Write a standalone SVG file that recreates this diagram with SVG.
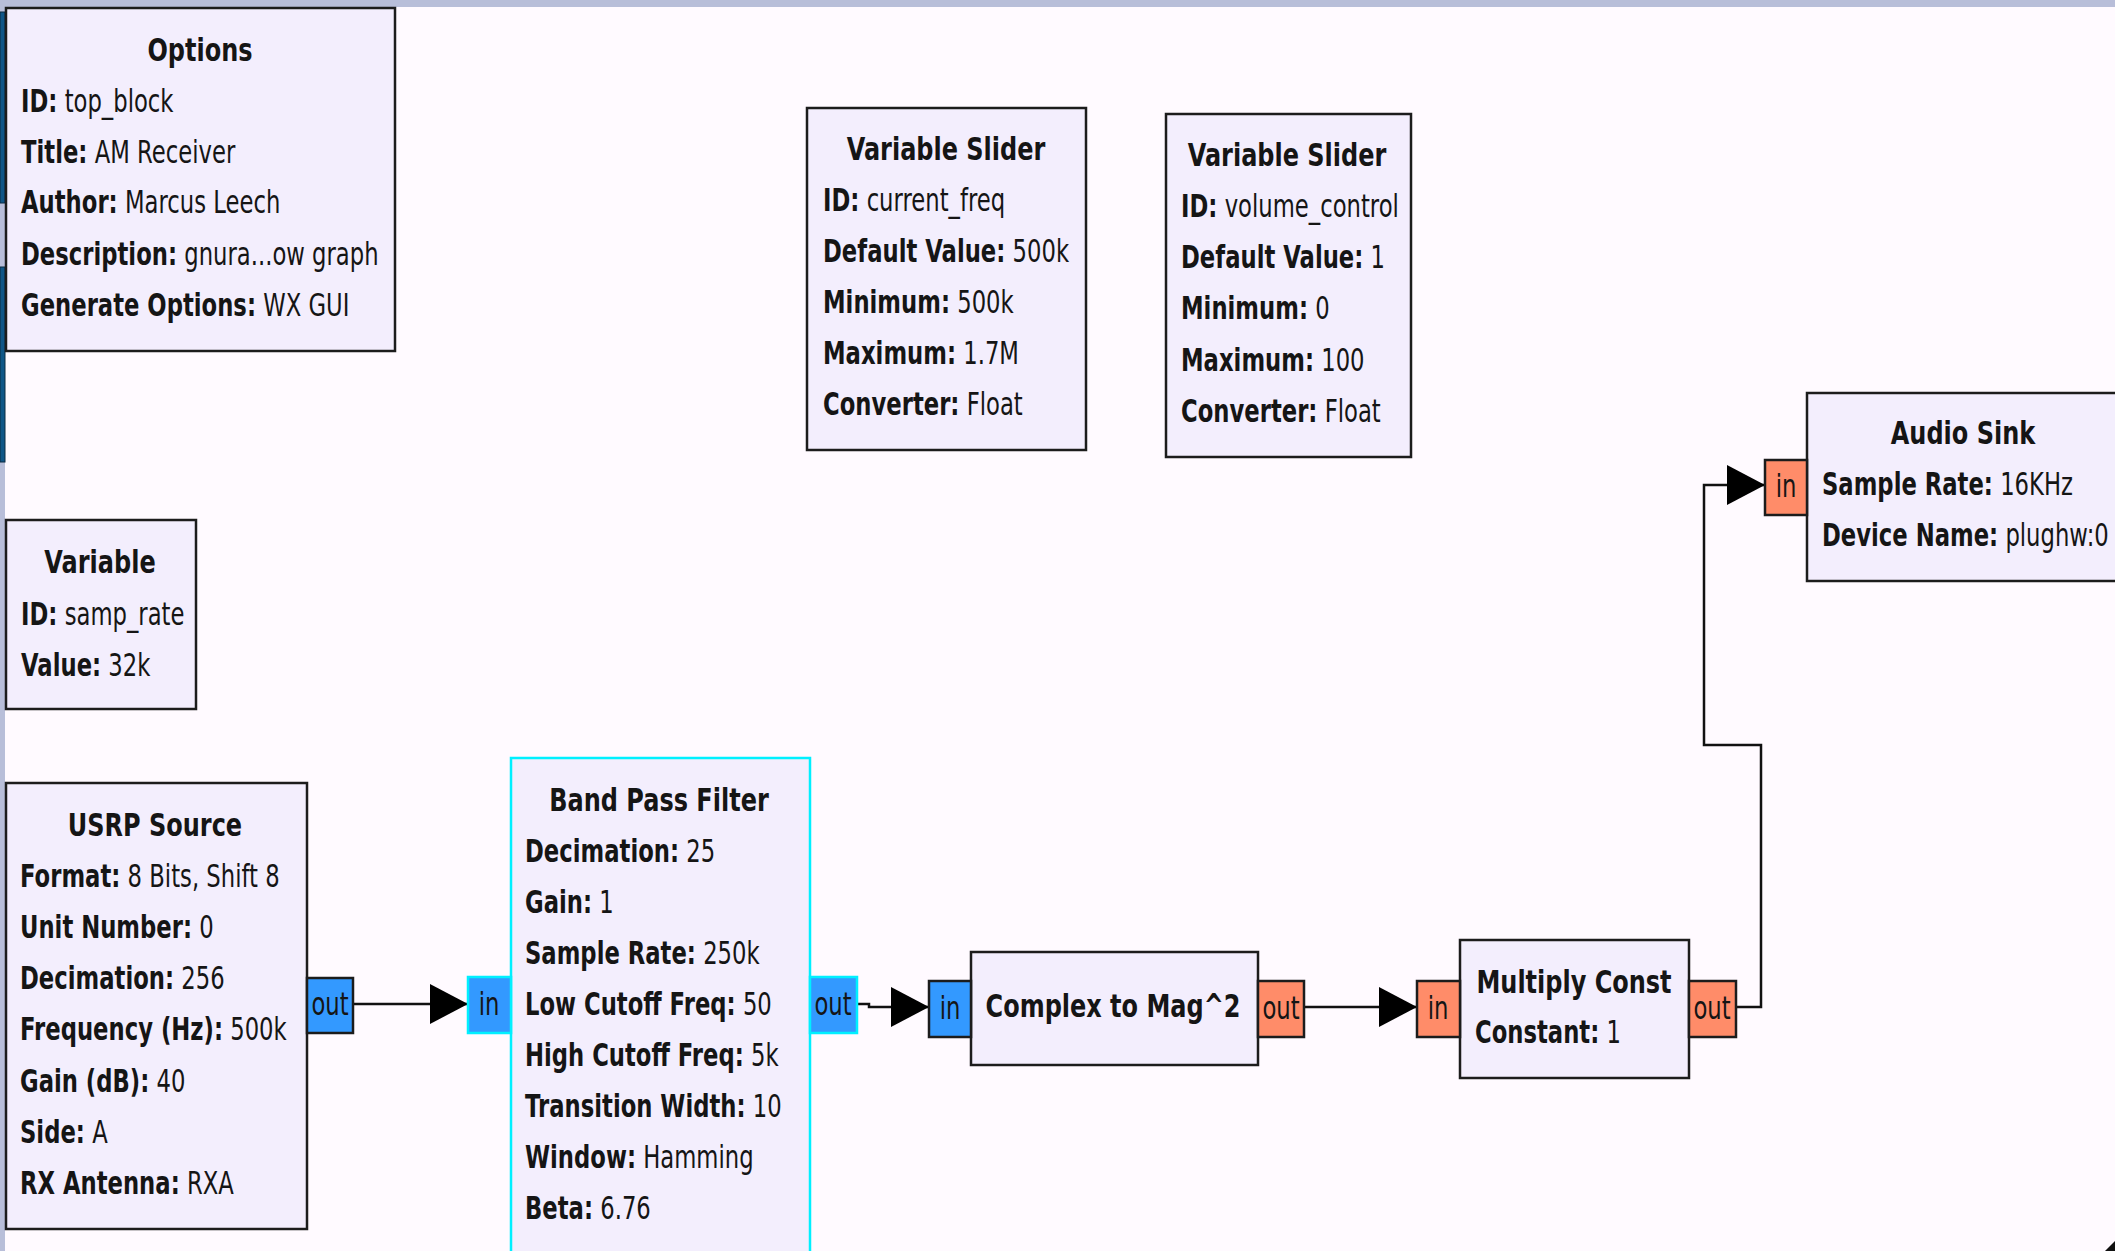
<svg xmlns="http://www.w3.org/2000/svg" width="2115" height="1251" viewBox="0 0 2115 1251">
<style>
.bg{fill:#FFFAFF}
.frame{fill:#B8BED9}
.tab{fill:#0F5687;stroke:#0a2a40;stroke-width:1}
.blk{fill:#F3EEFD;stroke:#1c1c1c;stroke-width:2.5}
.hl{stroke:#00F0FF}
.pc{fill:#3399FF;stroke:#1c1c1c;stroke-width:2.5}
.pf{fill:#FF8C69;stroke:#1c1c1c;stroke-width:2.5}
.pc.hl{stroke:#00F0FF}
text{font-family:"DejaVu Sans","Liberation Sans",sans-serif;font-size:32px;fill:#151515}
.b{font-weight:bold}
.c{text-anchor:middle}
.conn path{fill:none;stroke:#111;stroke-width:2.5}
</style>
<defs>
<marker id="arr" markerUnits="userSpaceOnUse" markerWidth="40" markerHeight="42" viewBox="0 0 40 42" refX="39" refY="21" orient="auto">
<path d="M1 1 L39 21 L1 41 Z" fill="#000"/>
</marker>
</defs>
<rect class="bg" x="0" y="0" width="2115" height="1251"/>
<rect class="frame" x="0" y="0" width="2115" height="7"/>
<rect class="frame" x="0" y="0" width="5" height="1251"/>
<rect class="tab" x="0" y="12" width="5" height="191"/>
<rect class="tab" x="0" y="267" width="5" height="195"/>

<g id="conns" class="conn">
<path d="M353 1004 H468" marker-end="url(#arr)"/>
<path d="M857 1004 H869 V1007 H929" marker-end="url(#arr)"/>
<path d="M1304 1007 H1417" marker-end="url(#arr)"/>
<path d="M1736 1007 H1761 V745 H1704 V485 H1765" marker-end="url(#arr)"/>
</g>

<g id="options">
<rect class="blk" x="6" y="8" width="389" height="343"/>
<text class="b c" transform="translate(200 61) scale(.75 1)">Options</text>
<text transform="translate(21 112) scale(.71 1)"><tspan class="b">ID:</tspan> top_block</text>
<text transform="translate(21 163) scale(.71 1)"><tspan class="b">Title:</tspan> AM Receiver</text>
<text transform="translate(21 213) scale(.71 1)"><tspan class="b">Author:</tspan> Marcus Leech</text>
<text transform="translate(21 265) scale(.71 1)"><tspan class="b">Description:</tspan> gnura...ow graph</text>
<text transform="translate(21 316) scale(.71 1)"><tspan class="b">Generate Options:</tspan> WX GUI</text>
</g>

<g id="variable">
<rect class="blk" x="6" y="520" width="190" height="189"/>
<text class="b c" transform="translate(100 573) scale(.75 1)">Variable</text>
<text transform="translate(21 625) scale(.71 1)"><tspan class="b">ID:</tspan> samp_rate</text>
<text transform="translate(21 676) scale(.71 1)"><tspan class="b">Value:</tspan> 32k</text>
</g>

<g id="slider_freq">
<rect class="blk" x="807" y="108" width="279" height="342"/>
<text class="b c" transform="translate(946 160) scale(.75 1)">Variable Slider</text>
<text transform="translate(823 211) scale(.71 1)"><tspan class="b">ID:</tspan> current_freq</text>
<text transform="translate(823 262) scale(.71 1)"><tspan class="b">Default Value:</tspan> 500k</text>
<text transform="translate(823 313) scale(.71 1)"><tspan class="b">Minimum:</tspan> 500k</text>
<text transform="translate(823 364) scale(.71 1)"><tspan class="b">Maximum:</tspan> 1.7M</text>
<text transform="translate(823 415) scale(.71 1)"><tspan class="b">Converter:</tspan> Float</text>
</g>

<g id="slider_volume">
<rect class="blk" x="1166" y="114" width="245" height="343"/>
<text class="b c" transform="translate(1287 166) scale(.75 1)">Variable Slider</text>
<text transform="translate(1181 217) scale(.71 1)"><tspan class="b">ID:</tspan> volume_control</text>
<text transform="translate(1181 268) scale(.71 1)"><tspan class="b">Default Value:</tspan> 1</text>
<text transform="translate(1181 319) scale(.71 1)"><tspan class="b">Minimum:</tspan> 0</text>
<text transform="translate(1181 371) scale(.71 1)"><tspan class="b">Maximum:</tspan> 100</text>
<text transform="translate(1181 422) scale(.71 1)"><tspan class="b">Converter:</tspan> Float</text>
</g>

<g id="audio_sink">
<rect class="blk" x="1807" y="393" width="320" height="188"/>
<rect class="pf" x="1765" y="460" width="42" height="55"/>
<text class="c" transform="translate(1786 497) scale(.71 1)">in</text>
<text class="b c" transform="translate(1963 444) scale(.75 1)">Audio Sink</text>
<text transform="translate(1822 495) scale(.71 1)"><tspan class="b">Sample Rate:</tspan> 16KHz</text>
<text transform="translate(1822 546) scale(.71 1)"><tspan class="b">Device Name:</tspan> plughw:0</text>
</g>

<g id="usrp_source">
<rect class="blk" x="6" y="783" width="301" height="446"/>
<rect class="pc" x="307" y="978" width="46" height="55"/>
<text class="c" transform="translate(330 1015) scale(.71 1)">out</text>
<text class="b c" transform="translate(155 836) scale(.75 1)">USRP Source</text>
<text transform="translate(20 887) scale(.71 1)"><tspan class="b">Format:</tspan> 8 Bits, Shift 8</text>
<text transform="translate(20 938) scale(.71 1)"><tspan class="b">Unit Number:</tspan> 0</text>
<text transform="translate(20 989) scale(.71 1)"><tspan class="b">Decimation:</tspan> 256</text>
<text transform="translate(20 1040) scale(.71 1)"><tspan class="b">Frequency (Hz):</tspan> 500k</text>
<text transform="translate(20 1092) scale(.71 1)"><tspan class="b">Gain (dB):</tspan> 40</text>
<text transform="translate(20 1143) scale(.71 1)"><tspan class="b">Side:</tspan> A</text>
<text transform="translate(20 1194) scale(.71 1)"><tspan class="b">RX Antenna:</tspan> RXA</text>
</g>

<g id="band_pass_filter">
<rect class="blk hl" x="511" y="758" width="299" height="510"/>
<rect class="pc hl" x="468" y="977" width="43" height="56"/>
<text class="c" transform="translate(489 1015) scale(.71 1)">in</text>
<rect class="pc hl" x="810" y="977" width="47" height="56"/>
<text class="c" transform="translate(833 1015) scale(.71 1)">out</text>
<text class="b c" transform="translate(659 811) scale(.75 1)">Band Pass Filter</text>
<text transform="translate(525 862) scale(.71 1)"><tspan class="b">Decimation:</tspan> 25</text>
<text transform="translate(525 913) scale(.71 1)"><tspan class="b">Gain:</tspan> 1</text>
<text transform="translate(525 964) scale(.71 1)"><tspan class="b">Sample Rate:</tspan> 250k</text>
<text transform="translate(525 1015) scale(.71 1)"><tspan class="b">Low Cutoff Freq:</tspan> 50</text>
<text transform="translate(525 1066) scale(.71 1)"><tspan class="b">High Cutoff Freq:</tspan> 5k</text>
<text transform="translate(525 1117) scale(.71 1)"><tspan class="b">Transition Width:</tspan> 10</text>
<text transform="translate(525 1168) scale(.71 1)"><tspan class="b">Window:</tspan> Hamming</text>
<text transform="translate(525 1219) scale(.71 1)"><tspan class="b">Beta:</tspan> 6.76</text>
</g>

<g id="complex_to_mag2">
<rect class="blk" x="971" y="952" width="287" height="113"/>
<rect class="pc" x="929" y="981" width="42" height="56"/>
<text class="c" transform="translate(950 1019) scale(.71 1)">in</text>
<rect class="pf" x="1258" y="981" width="46" height="56"/>
<text class="c" transform="translate(1281 1019) scale(.71 1)">out</text>
<text class="b c" transform="translate(1113 1017) scale(.75 1)">Complex to Mag^2</text>
</g>

<g id="multiply_const">
<rect class="blk" x="1460" y="940" width="229" height="138"/>
<rect class="pf" x="1417" y="981" width="43" height="56"/>
<text class="c" transform="translate(1438 1019) scale(.71 1)">in</text>
<rect class="pf" x="1689" y="981" width="47" height="56"/>
<text class="c" transform="translate(1712 1019) scale(.71 1)">out</text>
<text class="b c" transform="translate(1574 993) scale(.75 1)">Multiply Const</text>
<text transform="translate(1475 1043) scale(.71 1)"><tspan class="b">Constant:</tspan> 1</text>
</g>

<polygon points="2115,1241 2115,1251 2105,1251" fill="#111"/>
</svg>
